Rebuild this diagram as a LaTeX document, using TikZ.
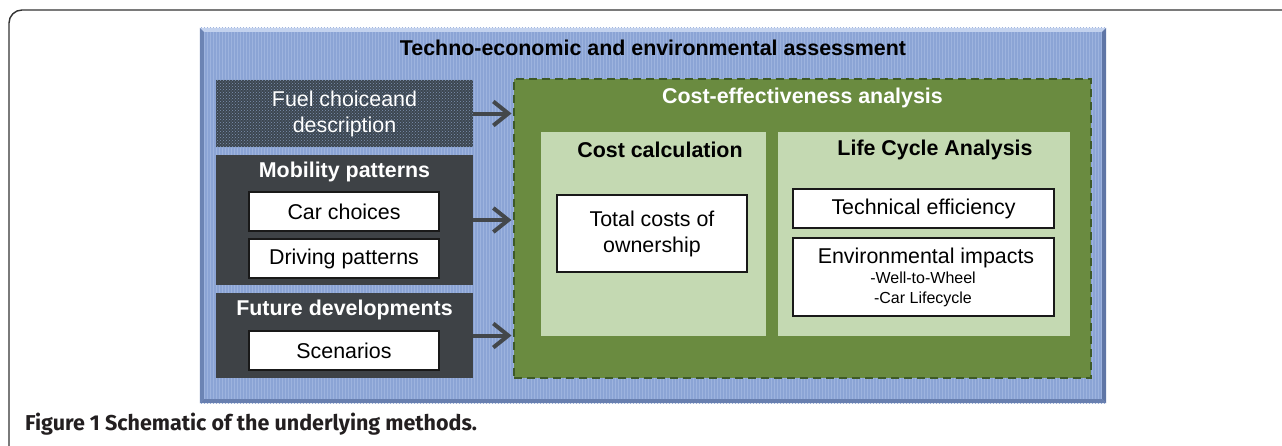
\documentclass[tikz,border=0pt]{standalone}
\usepackage{fontspec}
\setmainfont{Liberation Sans}
\newfontfamily\capfont{Fira Sans}
\usetikzlibrary{arrows.meta,patterns,calc}
\definecolor{bluebg}{HTML}{8BA4D5}
\definecolor{bluestripe}{HTML}{9DB3DE}
\definecolor{bluelight}{HTML}{C3D2EE}
\definecolor{bluedark}{HTML}{5F76A6}
\definecolor{darkbox}{HTML}{3E4246}
\definecolor{fuelbg}{HTML}{3C4650}
\definecolor{fueldot}{HTML}{7E92B2}
\definecolor{greenbg}{HTML}{6A8B40}
\definecolor{greendash}{HTML}{3E5A27}
\definecolor{lightgreen}{HTML}{C4D9B2}
\definecolor{arrowgray}{HTML}{43474B}
\definecolor{framegray}{HTML}{333333}
\definecolor{captext}{HTML}{231F20}
\tikzset{
  fbig/.style={font=\fontsize{21.4}{26}\selectfont},
  fbold/.style={font=\fontsize{21.4}{26}\selectfont\bfseries},
  fsmall/.style={font=\fontsize{16}{20}\selectfont},
  whitebox/.style={draw=black!90, line width=1.5pt, fill=white, inner sep=0pt, align=center, fbig},
  darkpanel/.style={fill=darkbox, draw=none, inner sep=0pt},
  lgpanel/.style={fill=lightgreen, draw=none, inner sep=0pt},
  wtitle/.style={text=white, fbold, inner sep=0pt},
  btitle/.style={text=black, fbold, inner sep=0pt},
  flow/.style={draw=arrowgray, line width=4pt, -{Straight Barb[length=15pt,width=24pt,line width=4pt]}, shorten >=1.5pt},
}
\begin{document}
\begin{tikzpicture}[x=1pt,y=-1pt]
\useasboundingbox (0,0) rectangle (1282,445);
% outer frame
\draw[framegray, line width=1.4pt, rounded corners=13pt] (9,447) -- (9,10) -- (1284,10);
% blue assessment box
\node[fill=bluebg, draw=none, minimum width=906pt, minimum height=375pt, inner sep=0pt] (assess) at (653,215.5) {};
\fill[pattern=vertical lines, pattern color=bluestripe] (assess.north west) rectangle (assess.south east);
\fill[bluelight] (assess.north west) -- (assess.north east) -- ++(-4,4) -- ($(assess.north west)+(4,4)$) -- cycle;
\fill[bluedark!70!bluebg] (assess.north west) -- ($(assess.north west)+(4,4)$) -- ($(assess.south west)+(4,-4)$) -- (assess.south west) -- cycle;
\fill[bluedark] (assess.north east) -- (assess.south east) -- ($(assess.south east)+(-4,-4)$) -- ($(assess.north east)+(-4,4)$) -- cycle;
\fill[bluedark!80!bluebg] (assess.south west) -- (assess.south east) -- ($(assess.south east)+(-4,-4)$) -- ($(assess.south west)+(4,-4)$) -- cycle;
\node[btitle] (assesstitle) at (653,48) {Techno-economic and environmental assessment};
% fuel box
\node[fill=fuelbg, draw=none, minimum width=257pt, minimum height=67pt, inner sep=0pt] (fuel) at (344.5,113.5) {};
\fill[pattern=crosshatch dots, pattern color=fueldot] (fuel.north west) rectangle (fuel.south east);
\node[text=white, fbig, align=center, inner sep=0pt] (fueltext) at (fuel.center) {Fuel choiceand\\description};
% mobility
\node[darkpanel, minimum width=257pt, minimum height=130pt] (mob) at (344.5,220) {};
\node[wtitle] (mobtitle) at (344.5,172) {Mobility patterns};
\node[whitebox, minimum width=190pt, minimum height=39pt] (car) at (344,211.5) {Car choices};
\node[whitebox, minimum width=190pt, minimum height=39pt] (driving) at (344,258.5) {Driving patterns};
% future
\node[darkpanel, minimum width=257pt, minimum height=85pt] (future) at (344.5,335.5) {};
\node[wtitle] (futuretitle) at (344.5,310) {Future developments};
\node[whitebox, minimum width=190pt, minimum height=39pt] (scen) at (344,350.5) {Scenarios};
% green cost-effectiveness box
\node[fill=greenbg, draw=greendash, line width=2pt, dash pattern=on 8pt off 5pt, minimum width=577pt, minimum height=299pt, inner sep=0pt] (cea) at (802.5,228.5) {};
\node[wtitle] (ceatitle) at (802.5,98) {Cost-effectiveness analysis};
\node[lgpanel, minimum width=225pt, minimum height=204pt] (cost) at (653.5,234) {};
\node[btitle] (costtitle) at (660,150) {Cost calculation};
\node[lgpanel, minimum width=292pt, minimum height=204pt] (lca) at (924,234) {};
\node[btitle] (lcatitle) at (935,150) {Life Cycle Analysis};
\node[whitebox, minimum width=190pt, minimum height=77pt] (tco) at (652,233.5) {Total costs of\\ownership};
\node[whitebox, minimum width=261pt, minimum height=39pt] (tech) at (923.5,208.5) {Technical efficiency};
\node[whitebox, minimum width=261pt, minimum height=78pt] (env) at (923.5,277) {};
\node[fbig, inner sep=0pt] (envtitle) at (926,258) {Environmental impacts};
\node[fsmall, align=center, inner sep=0pt] (envsub) at (923,289) {-Well-to-Wheel\\-Car Lifecycle};
% arrows
\draw[flow] (fuel.east) -- (cea.west |- fuel.east);
\draw[flow] (mob.east) -- (cea.west |- mob.east);
\draw[flow] (future.east) -- (cea.west |- future.east);
% caption
\node[anchor=base west, inner sep=0pt, text=captext, font=\capfont\fontsize{21.5}{24}\selectfont\bfseries] (caption) at (25,430) {Figure 1 Schematic of the underlying methods.};
\end{tikzpicture}
\end{document}
